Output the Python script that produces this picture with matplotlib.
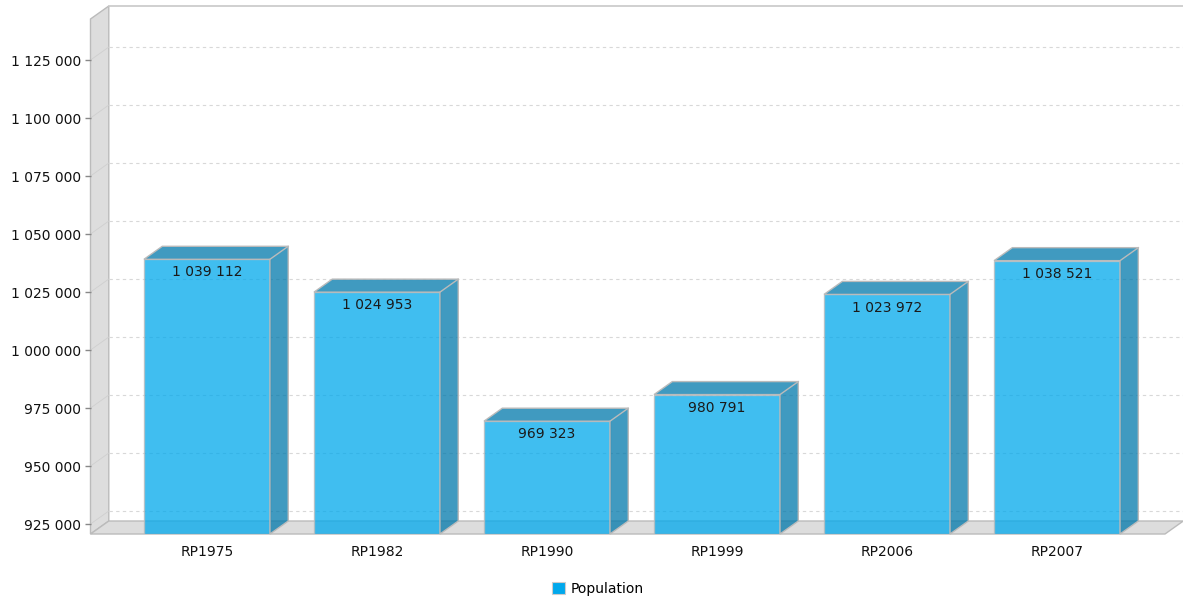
import numpy as np
import matplotlib.pyplot as plt
from matplotlib.patches import Polygon
from matplotlib.ticker import FuncFormatter

# Data
categories = ["RP1975", "RP1982", "RP1990", "RP1999", "RP2006", "RP2007"]
population = [1039112, 1024953, 969323, 980791, 1023972, 1038521]
y_ticks = [925000, 950000, 975000, 1000000, 1025000, 1050000, 1075000, 1100000, 1125000]

# Style / geometry
series_color = "#00a8ec"
dark_color = "#0078ab"
edge_color = "#bbbbbb"
wall_color = "#dddddd"
y_min, y_max = 920690, 1142690
x_min, x_max = -0.685, 5.635
bar_w = 0.741
dx = 0.1076   # depth offset, category units
dy = 5600     # depth offset, value units


def fmt(v, pos=None):
    return f"{v:,.0f}".replace(",", " ")


fig = plt.figure(figsize=(11.83, 5.98), dpi=100)
ax = fig.add_axes([90.5 / 1183, 64 / 598, (1165 - 90.5) / 1183, (534 - 19) / 598])
ax.set_xlim(x_min, x_max)
ax.set_ylim(y_min, y_max)
for s in ax.spines.values():
    s.set_visible(False)

# walls
left_wall = Polygon([(x_min, y_min), (x_min, y_max), (x_min + dx, y_max + dy), (x_min + dx, y_min + dy)],
                    closed=True, facecolor=wall_color, edgecolor=edge_color, lw=1, clip_on=False, zorder=1)
floor = Polygon([(x_min, y_min), (x_max, y_min), (x_max + dx, y_min + dy), (x_min + dx, y_min + dy)],
                closed=True, facecolor=wall_color, edgecolor=edge_color, lw=1, clip_on=False, zorder=1)
ax.add_patch(left_wall)
ax.add_patch(floor)
ax.plot([x_min + dx, x_max + dx], [y_max + dy, y_max + dy], color="#c8c8c8", lw=1.2, clip_on=False, zorder=1)

# gridlines on the back wall and across the left wall
for v in y_ticks:
    ax.plot([x_min + dx, x_max + dx], [v + dy, v + dy], color="#d8d8d8", lw=0.8,
            ls=(0, (3, 3)), clip_on=False, zorder=1.5)
    ax.plot([x_min, x_min + dx], [v, v + dy], color="#cfcfcf", lw=0.6, clip_on=False, zorder=1.5)

# bars
x = np.arange(len(categories))
ax.bar(x, np.array(population) - y_min, bottom=y_min, width=bar_w, color=series_color,
       alpha=0.75, edgecolor=edge_color, lw=1, zorder=3)
for xi, v in zip(x, population):
    xl, xr = xi - bar_w / 2, xi + bar_w / 2
    top = Polygon([(xl, v), (xr, v), (xr + dx, v + dy), (xl + dx, v + dy)], closed=True,
                  facecolor=dark_color, alpha=0.75, edgecolor="none", clip_on=False, zorder=3)
    side = Polygon([(xr, y_min), (xr, v), (xr + dx, v + dy), (xr + dx, y_min + dy)], closed=True,
                   facecolor=dark_color, alpha=0.75, edgecolor="none", clip_on=False, zorder=3)
    ax.add_patch(top)
    ax.add_patch(side)
    outline = Polygon([(xl, v), (xl + dx, v + dy), (xr + dx, v + dy), (xr + dx, y_min + dy),
                       (xr, y_min), (xr, v)], closed=True, fill=False, edgecolor=edge_color,
                      lw=1, clip_on=False, zorder=3.5)
    ax.add_patch(outline)
    ax.plot([xr, xr + dx], [v, v + dy], color=edge_color, lw=1, clip_on=False, zorder=3.5)
    ax.annotate(fmt(v), (xi, v), xytext=(0, -9.5), textcoords="offset points",
                ha="center", va="center", fontsize=10, color="#1a1a1a", zorder=4)

# axes
ax.set_yticks(y_ticks)
ax.yaxis.set_major_formatter(FuncFormatter(fmt))
ax.tick_params(axis="y", length=4, width=1, color="#888888", pad=3, labelsize=10, labelcolor="#111111")
ax.set_xticks(x)
ax.set_xticklabels(categories)
ax.tick_params(axis="x", length=0, pad=8, labelsize=10, labelcolor="#111111")

# legend
handle = plt.Rectangle((0, 0), 1, 1, facecolor=series_color, edgecolor="#cccccc", lw=0.8)
fig.legend([handle], ["Population"], loc="center", bbox_to_anchor=(598 / 1183, 1 - 589 / 598),
           frameon=False, fontsize=10, handlelength=0.9, handleheight=0.9, handletextpad=0.4)

fig.savefig("out.png", dpi=100, facecolor="white")
